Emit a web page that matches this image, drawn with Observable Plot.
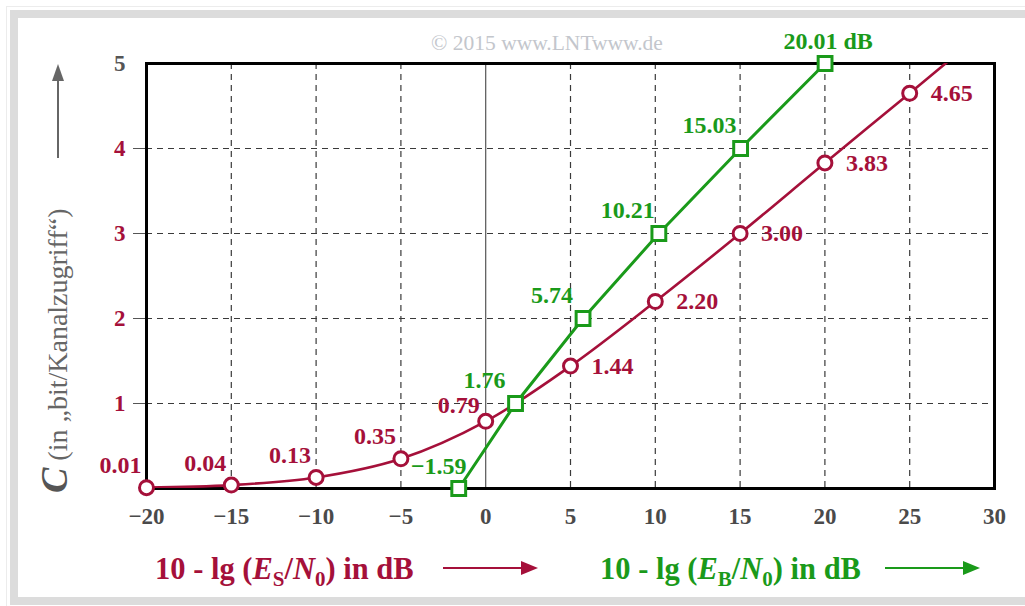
<!DOCTYPE html>
<html><head><meta charset="utf-8">
<script src="https://cdn.jsdelivr.net/npm/d3@7"></script>
<script src="https://cdn.jsdelivr.net/npm/@observablehq/plot@0.6"></script>
<style>
html,body{margin:0;padding:0;background:#fff;}
#wrap{position:relative;width:1025px;height:606px;overflow:hidden;font-family:"Liberation Serif","Times New Roman",serif;}
#border{position:absolute;left:10px;top:10px;width:1040px;height:595px;box-sizing:border-box;border:8px solid #dcdcdc;outline:1px solid #ececec;outline-offset:3px;}
#wrap svg{position:absolute;left:0;top:0;}
</style></head>
<body><div id="wrap"><div id="border"></div></div>
<script>
// Red curve: capacity C over 10·lg(Es/N0) in dB
const esDb = [-20, -15, -10, -5, 0, 5, 10, 15, 20, 25, 30];
const esCapacity = [0.01, 0.04, 0.13, 0.35, 0.79, 1.44, 2.20, 3.00, 3.83, 4.65, 5.48];
const esLabels = ["0.01", "0.04", "0.13", "0.35", "0.79", "1.44", "2.20", "3.00", "3.83", "4.65", ""];
// Green curve: capacity C over 10·lg(Eb/N0) in dB
const ebDb = [-1.59, 1.76, 5.74, 10.21, 15.03, 20.01];
const ebCapacity = [0, 1, 2, 3, 4, 5];
const ebLabels = ["\u22121.59", "1.76", "5.74", "10.21", "15.03", "20.01 dB"];
// Axes
const xTicks = [-20, -15, -10, -5, 0, 5, 10, 15, 20, 25, 30];
const yTicks = [1, 2, 3, 4, 5];

const RED = "#a5103a", GREEN = "#1a9a1a";

const es = esDb.map((x, i) => ({x, y: esCapacity[i], label: esLabels[i]}));
const eb = ebDb.map((x, i) => ({x, y: ebCapacity[i], label: ebLabels[i]}));
const esShown = es.filter(d => d.x <= 25);
const esLeft = esShown.filter(d => d.x < 0);
const esZero = esShown.filter(d => d.x === 0);
const esRight = esShown.filter(d => d.x > 0);
const ebFirst = eb.slice(0, 1), ebMid = eb.slice(1, -1), ebLast = eb.slice(-1);

const lblFont = {fontSize: 24, fontWeight: "bold"};
const intFmt = d => String(d);

const plot = Plot.plot({
  width: 1025, height: 606,
  marginLeft: 146, marginRight: 31, marginTop: 63, marginBottom: 118,
  x: {domain: [-20, 30]},
  y: {domain: [0, 5]},
  style: {fontFamily: "'Liberation Serif', 'Times New Roman', serif", background: "transparent", overflow: "visible"},
  marks: [
    Plot.ruleX(xTicks.filter(t => t > -20 && t < 30 && t !== 0), {stroke: "#3a3a3a", strokeDasharray: "6,5", strokeWidth: 1.2}),
    Plot.ruleY(yTicks.filter(t => t < 5), {stroke: "#3a3a3a", strokeDasharray: "6,5", strokeWidth: 1.2}),
    Plot.ruleX([0], {stroke: "#555", strokeWidth: 1.2}),
    Plot.axisX({ticks: xTicks, tickSize: 0, tickPadding: 19, fontSize: 23, fontWeight: "bold", color: "#4a4a4a", label: null}),
    Plot.axisY({ticks: yTicks.filter(t => t < 5), tickSize: 13, tickFormat: () => "", color: "#555", label: null}),
    Plot.axisY({ticks: yTicks.filter(t => t < 5), tickSize: 0, tickPadding: 21, tickFormat: intFmt, fontSize: 23, fontWeight: "bold", color: RED, label: null}),
    Plot.axisY({ticks: yTicks.filter(t => t === 5), tickSize: 0, tickPadding: 21, tickFormat: intFmt, fontSize: 23, fontWeight: "bold", color: "#555", label: null}),
    Plot.frame({stroke: "#000", strokeWidth: 3}),
    Plot.line(es, {x: "x", y: "y", stroke: RED, strokeWidth: 2.6, curve: "catmull-rom", clip: true}),
    Plot.line(eb, {x: "x", y: "y", stroke: GREEN, strokeWidth: 3}),
    Plot.dot(esShown, {x: "x", y: "y", r: 7, stroke: RED, strokeWidth: 3, fill: "white"}),
    Plot.dot(eb, {x: "x", y: "y", r: 7.8, symbol: "square", stroke: GREEN, strokeWidth: 3, fill: "white"}),
    Plot.text(esLeft, {x: "x", y: "y", text: "label", fill: RED, dx: -26, dy: -22, ...lblFont}),
    Plot.text(esZero, {x: "x", y: "y", text: "label", fill: RED, dx: -27, dy: -16, ...lblFont}),
    Plot.text(esRight, {x: "x", y: "y", text: "label", fill: RED, dx: 21, dy: 0, textAnchor: "start", ...lblFont}),
    Plot.text(ebFirst, {x: "x", y: "y", text: "label", fill: GREEN, dx: -20, dy: -22, ...lblFont}),
    Plot.text(ebMid, {x: "x", y: "y", text: "label", fill: GREEN, dx: -31, dy: -23, ...lblFont}),
    Plot.text(ebLast, {x: "x", y: "y", text: "label", fill: GREEN, dx: 3, dy: -22, ...lblFont})
  ]
});
const wrap = document.getElementById("wrap");
wrap.appendChild(plot);

// Overlay: watermark, axis titles and arrows
const ov = d3.select(wrap).append("svg").attr("width", 1025).attr("height", 606)
  .style("pointer-events", "none").style("font-family", "'Liberation Serif', 'Times New Roman', serif");

ov.append("text").attr("x", 547).attr("y", 50).attr("text-anchor", "middle")
  .attr("font-size", 21.5).attr("fill", "#c3c6cc").text("\u00a9 2015 www.LNTwww.de");

// Y title (rotated)
const yt = ov.append("text").attr("transform", "translate(67,493) rotate(-90)").attr("fill", "#666").attr("font-size", 28);
yt.append("tspan").attr("font-weight", "bold").attr("font-style", "italic").attr("font-size", 38).attr("fill", "#555").text("C");
yt.append("tspan").text(" (in \u201ebit/Kanalzugriff\u201c)");
ov.append("line").attr("x1", 58).attr("x2", 58).attr("y1", 158).attr("y2", 78).attr("stroke", "#666").attr("stroke-width", 2);
ov.append("path").attr("d", "M58,64 L52,81 L64,81 Z").attr("fill", "#666");

function xTitle(x, color, sub) {
  const t = ov.append("text").attr("x", x).attr("y", 579).attr("font-size", 30.5).attr("font-weight", "bold").attr("fill", color);
  t.append("tspan").text("10 - lg (");
  t.append("tspan").attr("font-style", "italic").text("E");
  t.append("tspan").attr("font-size", 21).attr("dy", 7).text(sub);
  t.append("tspan").attr("dy", -7).text("/");
  t.append("tspan").attr("font-style", "italic").text("N");
  t.append("tspan").attr("font-size", 21).attr("dy", 7).text("0");
  t.append("tspan").attr("dy", -7).text(") in dB");
}
function arrow(x1, x2, color) {
  ov.append("line").attr("x1", x1).attr("x2", x2 - 14).attr("y1", 568).attr("y2", 568).attr("stroke", color).attr("stroke-width", 2.2);
  ov.append("path").attr("d", `M${x2},568 L${x2 - 17},561 L${x2 - 17},575 Z`).attr("fill", color);
}
xTitle(155, RED, "S");
arrow(443, 538, RED);
xTitle(600, GREEN, "B");
arrow(885, 980, GREEN);
</script>
</body></html>
